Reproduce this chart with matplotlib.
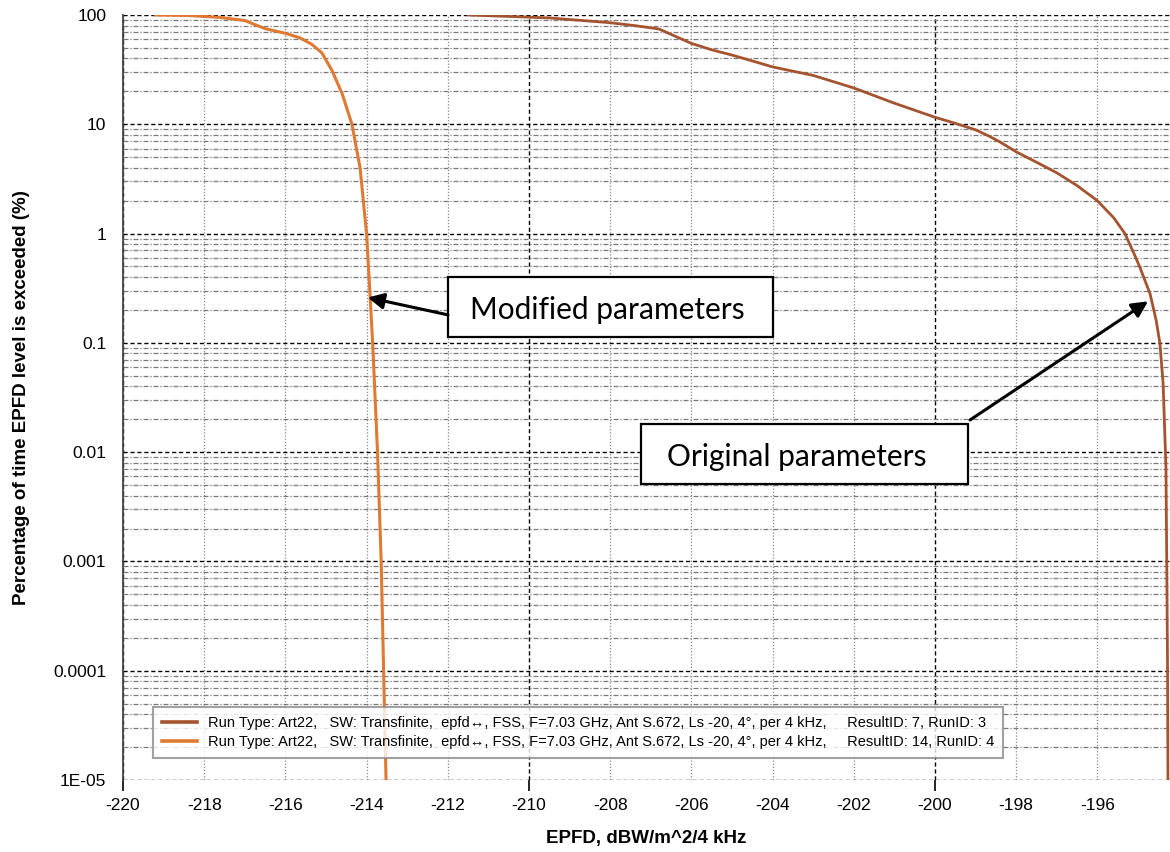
import numpy as np
import matplotlib
matplotlib.use("Agg")
import matplotlib.pyplot as plt
from matplotlib.ticker import MultipleLocator, FixedLocator, FixedFormatter, NullFormatter
from matplotlib.patches import Rectangle

plt.rcParams["font.family"] = ["Liberation Sans", "DejaVu Sans"]

# Data
original_x = [-211.5, -210.5, -209.5, -208.0, -207.4, -206.8, -206.4, -206.0, -205.5, -205.0,
              -204.5, -204.0, -203.0, -202.0, -201.0, -200.0, -199.5, -199.0, -198.7,
              -198.4, -198.0, -197.5, -197.0, -196.5, -196.0, -195.6, -195.32, -195.1,
              -194.95, -194.7, -194.55, -194.46, -194.38, -194.31, -194.29, -194.27, -194.26]
original_y = [100, 97, 94, 85, 80, 74.5, 64, 55, 48, 43,
              38, 33.5, 28, 21.5, 15.6, 11.6, 10.2, 8.9, 7.9,
              6.9, 5.6, 4.5, 3.6, 2.75, 2.0, 1.4, 1.0, 0.66,
              0.49, 0.28, 0.16, 0.1, 0.043, 0.0073, 0.001, 1e-4, 1e-5]

modified_x = [-219.2, -218.4, -217.6, -217.0, -216.5, -216.0, -215.65, -215.35, -215.1,
              -214.85, -214.6, -214.36, -214.16, -214.0, -213.92, -213.85, -213.73,
              -213.64, -213.58, -213.52]
modified_y = [100, 99, 95, 89, 75, 68, 62, 54, 45,
              31, 19, 10, 4.0, 1.0, 0.3, 0.1, 0.01,
              0.001, 1e-4, 1e-5]

y_ticks = [1e-5, 1e-4, 1e-3, 1e-2, 1e-1, 1, 10, 100]
y_tick_labels = ["1E-05", "0.0001", "0.001", "0.01", "0.1", "1", "10", "100"]

legend_original = ("Run Type: Art22,   SW: Transfinite,  epfd\u2194, FSS, F=7.03 GHz, "
                   "Ant S.672, Ls -20, 4\u00b0, per 4 kHz,     ResultID: 7, RunID: 3")
legend_modified = ("Run Type: Art22,   SW: Transfinite,  epfd\u2194, FSS, F=7.03 GHz, "
                   "Ant S.672, Ls -20, 4\u00b0, per 4 kHz,     ResultID: 14, RunID: 4")

color_original = "#A5532F"
color_modified = "#E07A32"

fig = plt.figure(figsize=(11.7, 8.52), dpi=100)
ax = fig.add_axes([0.1051, 0.0845, 0.8949, 0.8979])

ax.plot(original_x, original_y, color=color_original, lw=2.0, label=legend_original)
ax.plot(modified_x, modified_y, color=color_modified, lw=2.2, label=legend_modified)

ax.set_yscale("log")
ax.set_xlim(-220, -194.21)
ax.set_ylim(1e-5, 100)

# x ticks: labelled every 2, heavier grid every 10
ax.xaxis.set_major_locator(MultipleLocator(10))
ax.xaxis.set_minor_locator(MultipleLocator(2))
ax.xaxis.set_major_formatter(lambda v, p: f"{v:.0f}")
ax.xaxis.set_minor_formatter(lambda v, p: f"{v:.0f}")

ax.yaxis.set_major_locator(FixedLocator(y_ticks))
ax.yaxis.set_major_formatter(FixedFormatter(y_tick_labels))
ax.yaxis.set_minor_locator(FixedLocator([d * s for d in y_ticks[:-1] for s in range(2, 10)]))
ax.yaxis.set_minor_formatter(NullFormatter())

ax.tick_params(axis="x", which="major", length=8, width=1.2, color="black",
               direction="out", pad=5, labelsize=12.5)
ax.tick_params(axis="x", which="minor", length=0, pad=13, labelsize=12.5)
ax.tick_params(axis="y", which="both", length=0, pad=12, labelsize=12.5)

ax.grid(True, which="major", axis="both", color="black", ls=(0, (3, 2)), lw=1.0)
ax.grid(True, which="minor", axis="x", color="#888888", ls=(0, (1, 1.5)), lw=0.9)
ax.grid(True, which="minor", axis="y", color="#7a7a7a", ls=(0, (4, 1.5, 1, 1.5)), lw=0.9)
ax.set_axisbelow(True)

for side in ["top", "right", "bottom"]:
    ax.spines[side].set_visible(False)
ax.spines["left"].set_color("#444444")
ax.spines["left"].set_linewidth(1.3)

ax.set_xlabel("EPFD, dBW/m^2/4 kHz", fontsize=13.5, fontweight="bold", labelpad=12)
ax.set_ylabel("Percentage of time EPFD level is exceeded (%)", fontsize=13.5,
              fontweight="bold", labelpad=17)

leg = ax.legend(loc="lower left", bbox_to_anchor=(0.0287, 0.0288), borderaxespad=0,
                fontsize=10.5, frameon=True, fancybox=False, handlelength=2.4,
                handletextpad=0.8, labelspacing=0.35, borderpad=0.6)
leg.get_frame().set_edgecolor("#8a8a8a")
leg.get_frame().set_linewidth(1.5)
for line in leg.get_lines():
    line.set_linewidth(2.6)

# callout boxes
note_font = ["Lato", "DejaVu Sans"]
for (x0, x1, y0, y1), label, tx in [((0.3104, 0.6208, 0.5791, 0.6575), "Modified parameters", 0.3314),
                                     ((0.4947, 0.8071, 0.3869, 0.4654), "Original parameters", 0.5196)]:
    ax.add_patch(Rectangle((x0, y0), x1 - x0, y1 - y0, transform=ax.transAxes,
                           facecolor="white", edgecolor="black", lw=1.6, zorder=5))
    ax.text(tx, (y0 + y1) / 2 - 0.004, label, transform=ax.transAxes, ha="left", va="center",
            fontsize=21.5, family=note_font, zorder=6)

arrow = dict(arrowstyle="-|>", color="black", lw=2.2, mutation_scale=24, shrinkA=0, shrinkB=0)
ax.annotate("", xy=(-213.97, 0.26), xycoords="data", xytext=(0.3104, 0.608),
            textcoords="axes fraction", arrowprops=arrow, zorder=7)
ax.annotate("", xy=(-194.75, 0.24), xycoords="data", xytext=(0.809, 0.4706),
            textcoords="axes fraction", arrowprops=arrow, zorder=7)

fig.savefig("out.png", dpi=100)
